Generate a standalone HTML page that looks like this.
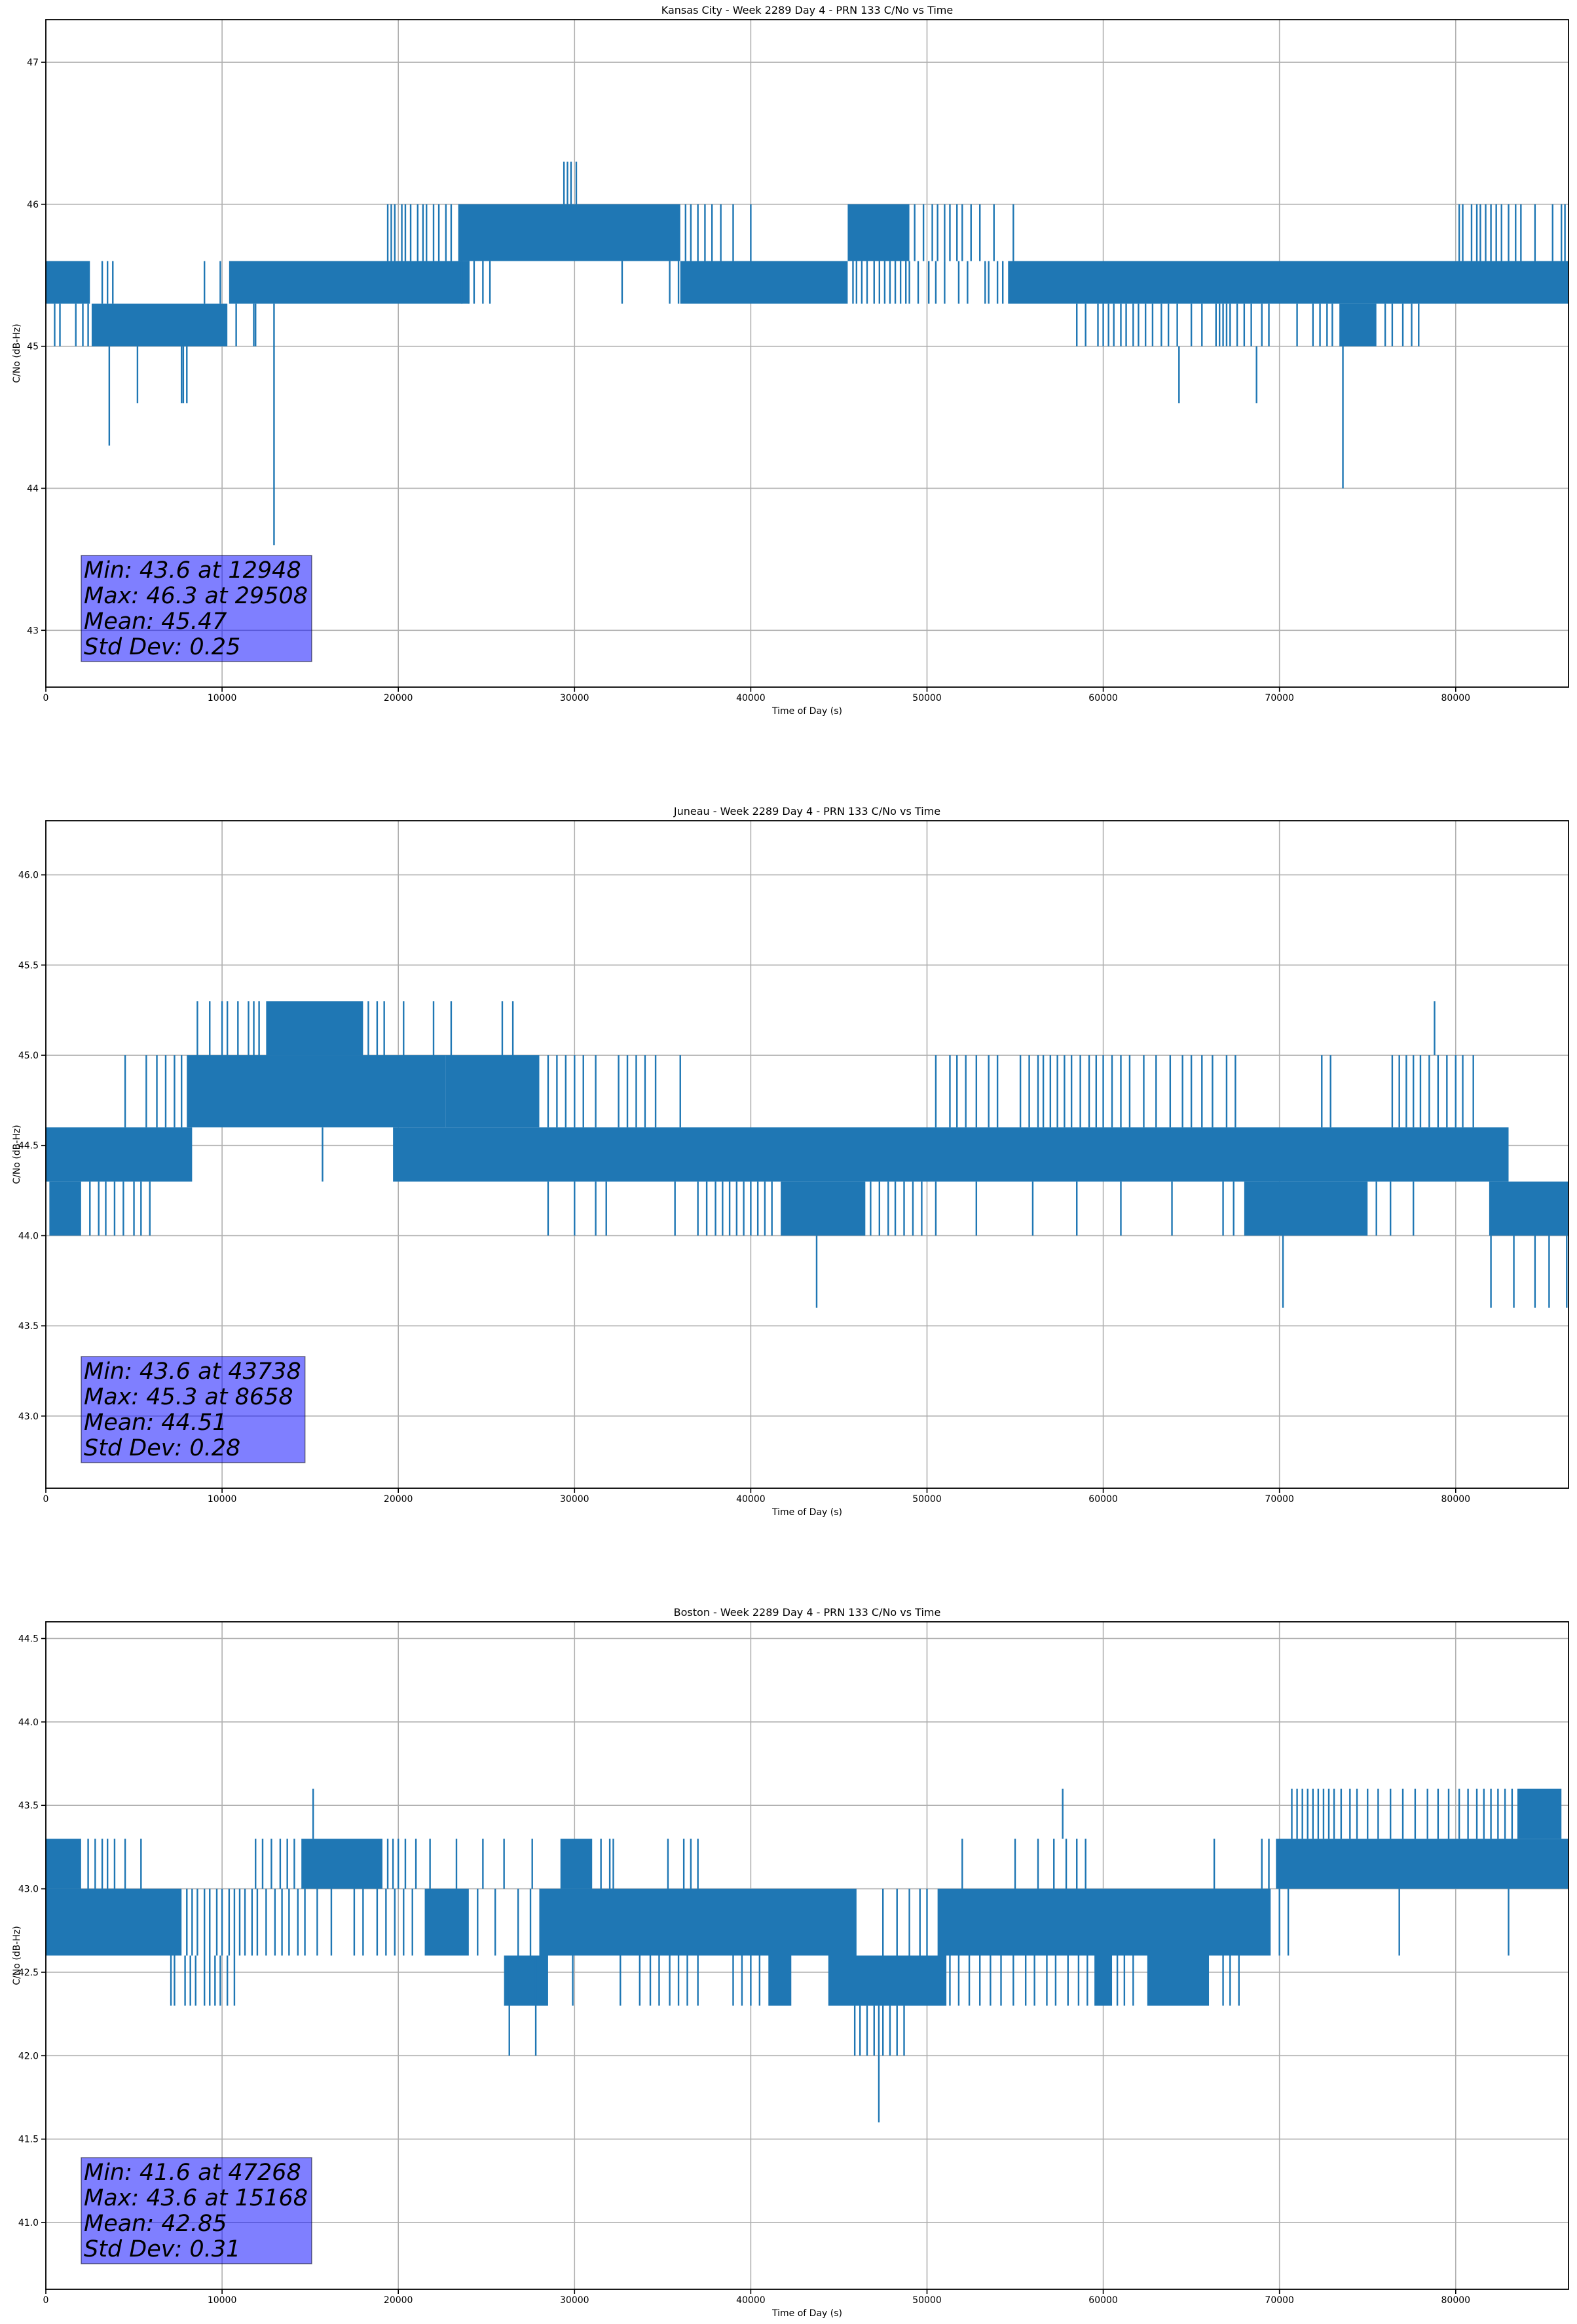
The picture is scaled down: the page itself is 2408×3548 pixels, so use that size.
<!DOCTYPE html>
<html><head><meta charset="utf-8"><style>
html,body{margin:0;padding:0;background:#fff;}
svg{display:block;}
text{font-family:"DejaVu Sans","Liberation Sans",sans-serif;fill:#000;}
</style></head><body>
<svg id="fig" width="2408" height="3548" viewBox="0 0 2408 3548" xmlns="http://www.w3.org/2000/svg"></svg>
<script>
// ---------- data ----------
const xTicks = [0,10000,20000,30000,40000,50000,60000,70000,80000];
const xMax = 86400;

const kcTitle = "Kansas City - Week 2289 Day 4 - PRN 133 C/No vs Time";
const kcYlim = [42.6, 47.3];
const kcYTicks = [43,44,45,46,47];
const kcYTickLabels = ["43","44","45","46","47"];
const kcStats = ["Min: 43.6 at 12948","Max: 46.3 at 29508","Mean: 45.47","Std Dev: 0.25"];
const kcBands = [[0,2500,45.3,45.6],[2600,10300,45.0,45.3],[10400,24000,45.3,45.6],[23400,36000,45.6,46.0],[36000,45500,45.3,45.6],[45500,49000,45.6,46.0],[54600,86400,45.3,45.6],[73400,75500,45.0,45.3]];
const kcLines = [[500,45.0,45.3],[800,45.0,45.3],[1700,45.0,45.3],[2100,45.0,45.3],[2400,45.0,45.3],[10800,45.0,45.3],[11800,45.0,45.3],[11900,45.0,45.3],
[58500,45.0,45.3],[59000,45.0,45.3],[59700,45.0,45.3],[60000,45.0,45.3],[60300,45.0,45.3],[60600,45.0,45.3],[61000,45.0,45.3],[61300,45.0,45.3],[61700,45.0,45.3],[62000,45.0,45.3],[62400,45.0,45.3],[62800,45.0,45.3],[63300,45.0,45.3],[63700,45.0,45.3],[64200,45.0,45.3],[65000,45.0,45.3],[65600,45.0,45.3],[66400,45.0,45.3],[66600,45.0,45.3],[66800,45.0,45.3],[67000,45.0,45.3],[67200,45.0,45.3],[67600,45.0,45.3],[68000,45.0,45.3],[68400,45.0,45.3],[69000,45.0,45.3],[69400,45.0,45.3],[71000,45.0,45.3],[71900,45.0,45.3],[72300,45.0,45.3],[72700,45.0,45.3],[73000,45.0,45.3],[76000,45.0,45.3],[76400,45.0,45.3],[77000,45.0,45.3],[77500,45.0,45.3],[77900,45.0,45.3],
[3200,45.3,45.6],[3500,45.3,45.6],[3800,45.3,45.6],[9000,45.3,45.6],[9900,45.3,45.6],
[3600,44.3,45.0],[5200,44.6,45.0],[7700,44.6,45.0],[7800,44.6,45.0],[8000,44.6,45.0],[12948,43.6,45.3],[64300,44.6,45.0],[68700,44.6,45.0],[73600,44.0,45.0],
[19400,45.6,46.0],[19600,45.6,46.0],[19800,45.6,46.0],[20200,45.6,46.0],[20400,45.6,46.0],[20700,45.6,46.0],[21100,45.6,46.0],[21400,45.6,46.0],[21600,45.6,46.0],[22000,45.6,46.0],[22300,45.6,46.0],[22700,45.6,46.0],[23000,45.6,46.0],
[36300,45.6,46.0],[36600,45.6,46.0],[37000,45.6,46.0],[37400,45.6,46.0],[37800,45.6,46.0],[38300,45.6,46.0],[39000,45.6,46.0],[40000,45.6,46.0],
[49300,45.6,46.0],[49800,45.6,46.0],[50300,45.6,46.0],[50600,45.6,46.0],[51000,45.6,46.0],[51300,45.6,46.0],[51700,45.6,46.0],[52000,45.6,46.0],[52500,45.6,46.0],[53000,45.6,46.0],[53800,45.6,46.0],[54900,45.6,46.0],
[80200,45.6,46.0],[80400,45.6,46.0],[80900,45.6,46.0],[81200,45.6,46.0],[81400,45.6,46.0],[81700,45.6,46.0],[82000,45.6,46.0],[82300,45.6,46.0],[82600,45.6,46.0],[83000,45.6,46.0],[83400,45.6,46.0],[83700,45.6,46.0],[84500,45.6,46.0],[85500,45.6,46.0],[86000,45.6,46.0],[86200,45.6,46.0],
[29400,46.0,46.3],[29600,46.0,46.3],[29800,46.0,46.3],[30100,46.0,46.3],
[23600,45.3,45.6],[24000,45.3,45.6],[24300,45.3,45.6],[24800,45.3,45.6],[25200,45.3,45.6],[32700,45.3,45.6],[35400,45.3,45.6],[35900,45.3,45.6],
[45800,45.3,45.6],[46000,45.3,45.6],[46300,45.3,45.6],[46600,45.3,45.6],[47000,45.3,45.6],[47300,45.3,45.6],[47600,45.3,45.6],[47900,45.3,45.6],[48200,45.3,45.6],[48500,45.3,45.6],[48800,45.3,45.6],[49000,45.3,45.6],[49500,45.3,45.6],[50100,45.3,45.6],[50500,45.3,45.6],[51000,45.3,45.6],[51800,45.3,45.6],[52300,45.3,45.6],[53300,45.3,45.6],[53500,45.3,45.6],[54000,45.3,45.6],[54300,45.3,45.6]];

const juTitle = "Juneau - Week 2289 Day 4 - PRN 133 C/No vs Time";
const juYlim = [42.6, 46.3];
const juYTicks = [43.0,43.5,44.0,44.5,45.0,45.5,46.0];
const juYTickLabels = ["43.0","43.5","44.0","44.5","45.0","45.5","46.0"];
const juStats = ["Min: 43.6 at 43738","Max: 45.3 at 8658","Mean: 44.51","Std Dev: 0.28"];
const juBands = [[0,8300,44.3,44.6],[200,2000,44.0,44.3],[8000,22700,44.6,45.0],[12500,18000,45.0,45.3],[19700,83000,44.3,44.6],[22700,28000,44.6,45.0],[41700,46500,44.0,44.3],[68000,75000,44.0,44.3],[81900,86400,44.0,44.3]];
const juLines = [[8600,45.0,45.3],[9300,45.0,45.3],[10000,45.0,45.3],[10300,45.0,45.3],[10900,45.0,45.3],[11500,45.0,45.3],[11800,45.0,45.3],[12100,45.0,45.3],[18300,45.0,45.3],[18800,45.0,45.3],[19200,45.0,45.3],[20300,45.0,45.3],[22000,45.0,45.3],[23000,45.0,45.3],[25900,45.0,45.3],[26500,45.0,45.3],[78800,45.0,45.3],
[4500,44.6,45.0],[5700,44.6,45.0],[6300,44.6,45.0],[6800,44.6,45.0],[7300,44.6,45.0],[7700,44.6,45.0],[28500,44.6,45.0],[29000,44.6,45.0],[29500,44.6,45.0],[30000,44.6,45.0],[30500,44.6,45.0],[31200,44.6,45.0],[32500,44.6,45.0],[33000,44.6,45.0],[33500,44.6,45.0],[34000,44.6,45.0],[34600,44.6,45.0],[36000,44.6,45.0],
[50500,44.6,45.0],[51300,44.6,45.0],[51700,44.6,45.0],[52200,44.6,45.0],[52800,44.6,45.0],[53500,44.6,45.0],[54000,44.6,45.0],[55300,44.6,45.0],[55800,44.6,45.0],[56300,44.6,45.0],[56600,44.6,45.0],[57000,44.6,45.0],[57400,44.6,45.0],[57800,44.6,45.0],[58200,44.6,45.0],[58700,44.6,45.0],[59200,44.6,45.0],[59600,44.6,45.0],[60000,44.6,45.0],[60500,44.6,45.0],[61000,44.6,45.0],[61500,44.6,45.0],[62300,44.6,45.0],[63000,44.6,45.0],[63800,44.6,45.0],[64500,44.6,45.0],[65000,44.6,45.0],[65600,44.6,45.0],[66200,44.6,45.0],[67000,44.6,45.0],[67500,44.6,45.0],[72400,44.6,45.0],[72900,44.6,45.0],[76400,44.6,45.0],[76800,44.6,45.0],[77200,44.6,45.0],[77600,44.6,45.0],[78000,44.6,45.0],[78500,44.6,45.0],[79000,44.6,45.0],[79500,44.6,45.0],[80000,44.6,45.0],[80400,44.6,45.0],[81000,44.6,45.0],
[2500,44.0,44.3],[3000,44.0,44.3],[3400,44.0,44.3],[3900,44.0,44.3],[4400,44.0,44.3],[5000,44.0,44.3],[5400,44.0,44.3],[5900,44.0,44.3],[28500,44.0,44.3],[30000,44.0,44.3],[31200,44.0,44.3],[31800,44.0,44.3],[35700,44.0,44.3],[37000,44.0,44.3],[37500,44.0,44.3],[38000,44.0,44.3],[38400,44.0,44.3],[38800,44.0,44.3],[39200,44.0,44.3],[39600,44.0,44.3],[40000,44.0,44.3],[40400,44.0,44.3],[40800,44.0,44.3],[41200,44.0,44.3],[46800,44.0,44.3],[47300,44.0,44.3],[47800,44.0,44.3],[48200,44.0,44.3],[48700,44.0,44.3],[49200,44.0,44.3],[49700,44.0,44.3],[50500,44.0,44.3],[52800,44.0,44.3],[56000,44.0,44.3],[58500,44.0,44.3],[61000,44.0,44.3],[63900,44.0,44.3],[66800,44.0,44.3],[67400,44.0,44.3],[75500,44.0,44.3],[76300,44.0,44.3],[77600,44.0,44.3],
[15700,44.3,44.6],
[43738,43.6,44.0],[70200,43.6,44.0],[82000,43.6,44.0],[83300,43.6,44.0],[84500,43.6,44.0],[85300,43.6,44.0],[86300,43.6,44.0]];

const boTitle = "Boston - Week 2289 Day 4 - PRN 133 C/No vs Time";
const boYlim = [40.6, 44.6];
const boYTicks = [41.0,41.5,42.0,42.5,43.0,43.5,44.0,44.5];
const boYTickLabels = ["41.0","41.5","42.0","42.5","43.0","43.5","44.0","44.5"];
const boStats = ["Min: 41.6 at 47268","Max: 43.6 at 15168","Mean: 42.85","Std Dev: 0.31"];
const boBands = [[0,7700,42.6,43.0],[0,2000,43.0,43.3],[14500,19100,43.0,43.3],[21500,24000,42.6,43.0],[26000,28500,42.3,42.6],[28000,46000,42.6,43.0],[29200,31000,43.0,43.3],[41000,42300,42.3,42.6],[44400,51100,42.3,42.6],[50600,69500,42.6,43.0],[59500,60500,42.3,42.6],[62500,66000,42.3,42.6],[69800,86400,43.0,43.3],[83500,86000,43.3,43.6]];
const boLines = [[8000,42.6,43.0],[8300,42.6,43.0],[8600,42.6,43.0],[9000,42.6,43.0],[9300,42.6,43.0],[9700,42.6,43.0],[10000,42.6,43.0],[10400,42.6,43.0],[10700,42.6,43.0],[11000,42.6,43.0],[11300,42.6,43.0],[11700,42.6,43.0],[12000,42.6,43.0],[12500,42.6,43.0],[13000,42.6,43.0],[13400,42.6,43.0],[13800,42.6,43.0],[14300,42.6,43.0],[14700,42.6,43.0],[15400,42.6,43.0],[16200,42.6,43.0],[17500,42.6,43.0],[18000,42.6,43.0],[18800,42.6,43.0],[19300,42.6,43.0],[19800,42.6,43.0],[20300,42.6,43.0],[20800,42.6,43.0],[24500,42.6,43.0],[25500,42.6,43.0],[26800,42.6,43.0],[27500,42.6,43.0],[47500,42.6,43.0],[48300,42.6,43.0],[49000,42.6,43.0],[49600,42.6,43.0],[50000,42.6,43.0],[70000,42.6,43.0],[70500,42.6,43.0],[76800,42.6,43.0],[83000,42.6,43.0],
[2400,43.0,43.3],[2800,43.0,43.3],[3200,43.0,43.3],[3500,43.0,43.3],[3900,43.0,43.3],[4500,43.0,43.3],[5400,43.0,43.3],[11900,43.0,43.3],[12300,43.0,43.3],[12800,43.0,43.3],[13300,43.0,43.3],[13700,43.0,43.3],[14100,43.0,43.3],[19400,43.0,43.3],[19700,43.0,43.3],[20000,43.0,43.3],[20400,43.0,43.3],[21000,43.0,43.3],[21800,43.0,43.3],[23300,43.0,43.3],[24800,43.0,43.3],[26000,43.0,43.3],[27600,43.0,43.3],[31500,43.0,43.3],[32000,43.0,43.3],[32200,43.0,43.3],[35300,43.0,43.3],[36200,43.0,43.3],[36600,43.0,43.3],[37000,43.0,43.3],[52000,43.0,43.3],[55000,43.0,43.3],[56300,43.0,43.3],[57200,43.0,43.3],[57900,43.0,43.3],[58500,43.0,43.3],[59000,43.0,43.3],[66300,43.0,43.3],[69000,43.0,43.3],[69400,43.0,43.3],
[7100,42.3,42.6],[7300,42.3,42.6],[7900,42.3,42.6],[8200,42.3,42.6],[8500,42.3,42.6],[9000,42.3,42.6],[9300,42.3,42.6],[9600,42.3,42.6],[9900,42.3,42.6],[10300,42.3,42.6],[10700,42.3,42.6],[29900,42.3,42.6],[32600,42.3,42.6],[33700,42.3,42.6],[34300,42.3,42.6],[34800,42.3,42.6],[35400,42.3,42.6],[35900,42.3,42.6],[36400,42.3,42.6],[37000,42.3,42.6],[39000,42.3,42.6],[39500,42.3,42.6],[40000,42.3,42.6],[40500,42.3,42.6],[51300,42.3,42.6],[51800,42.3,42.6],[52400,42.3,42.6],[53000,42.3,42.6],[53600,42.3,42.6],[54200,42.3,42.6],[54900,42.3,42.6],[55600,42.3,42.6],[56100,42.3,42.6],[56800,42.3,42.6],[57300,42.3,42.6],[58000,42.3,42.6],[58600,42.3,42.6],[59100,42.3,42.6],[60800,42.3,42.6],[61200,42.3,42.6],[61700,42.3,42.6],[66800,42.3,42.6],[67200,42.3,42.6],[67700,42.3,42.6],
[26300,42.0,42.6],[27800,42.0,42.6],[45900,42.0,42.3],[46200,42.0,42.3],[46600,42.0,42.3],[47000,42.0,42.3],[47500,42.0,42.3],[47900,42.0,42.3],[48300,42.0,42.3],[48700,42.0,42.3],[47268,41.6,42.3],
[15168,43.3,43.6],[57700,43.3,43.6],
[70700,43.3,43.6],[71000,43.3,43.6],[71300,43.3,43.6],[71600,43.3,43.6],[71900,43.3,43.6],[72200,43.3,43.6],[72500,43.3,43.6],[72800,43.3,43.6],[73100,43.3,43.6],[73500,43.3,43.6],[74000,43.3,43.6],[74400,43.3,43.6],[75000,43.3,43.6],[75600,43.3,43.6],[76300,43.3,43.6],[77000,43.3,43.6],[77700,43.3,43.6],[78400,43.3,43.6],[79000,43.3,43.6],[79600,43.3,43.6],[80200,43.3,43.6],[80700,43.3,43.6],[81200,43.3,43.6],[81600,43.3,43.6],[82000,43.3,43.6],[82400,43.3,43.6],[82800,43.3,43.6],[83200,43.3,43.6]];

// ---------- drawing ----------
const NS = "http://www.w3.org/2000/svg";
const svg = document.getElementById('fig');
const PX0 = 70, PX1 = 2395, PH = 1019;
const BLUE = "#1f77b4";
function mk(tag, attrs, parent){ const e=document.createElementNS(NS,tag); for(const k in attrs) e.setAttribute(k,attrs[k]); parent.appendChild(e); return e; }

function drawChart(key, top, title, ylim, yTicks, yTickLabels, bands, lines, stats){
  const g = mk('g', {}, svg);
  
  
  const xs = t => PX0 + (t / xMax) * (PX1 - PX0);
  const ys = v => top + PH - (v - ylim[0]) / (ylim[1] - ylim[0]) * PH;
  const grid = mk('g', {}, g);
  
  
  xTicks.forEach(t => { mk('line', {x1:xs(t), x2:xs(t), y1:top, y2:top+PH, stroke:'#b0b0b0', 'stroke-width':1.6}, grid); });
  yTicks.forEach(v => { mk('line', {x1:PX0, x2:PX1, y1:ys(v), y2:ys(v), stroke:'#b0b0b0', 'stroke-width':1.6}, grid); });
  const series = mk('g', {}, g);
  
  
  bands.forEach(b => {
    const r = mk('rect', {x:xs(b[0]), y:ys(b[3]), width:Math.max(1, xs(b[1]) - xs(b[0])), height:ys(b[2]) - ys(b[3]), fill:BLUE}, series);
    
    
  });
  lines.forEach(l => {
    const ln = mk('line', {x1:xs(l[0]), x2:xs(l[0]), y1:ys(l[1]), y2:ys(l[2]), stroke:BLUE, 'stroke-width':2.4}, series);
    
    
  });
  const sp = mk('rect', {x:PX0, y:top, width:PX1-PX0, height:PH, fill:'none', stroke:'#000', 'stroke-width':1.8}, g);
  
  
  xTicks.forEach(t => {
    mk('line', {x1:xs(t), x2:xs(t), y1:top+PH, y2:top+PH+7, stroke:'#000', 'stroke-width':1.6}, g);
    const tx = mk('text', {x:xs(t), y:top+PH+21, 'font-size':14, 'text-anchor':'middle'}, g);
    tx.textContent = String(t);
    
    
  });
  yTicks.forEach((v, i) => {
    mk('line', {x1:PX0-7, x2:PX0, y1:ys(v), y2:ys(v), stroke:'#000', 'stroke-width':1.6}, g);
    const tx = mk('text', {x:PX0-11, y:ys(v)+5, 'font-size':14, 'text-anchor':'end'}, g);
    tx.textContent = yTickLabels[i];
    
    
  });
  const xl = mk('text', {x:(PX0+PX1)/2, y:top+PH+41, 'font-size':14, 'text-anchor':'middle'}, g);
  xl.textContent = "Time of Day (s)";
  
  
  const cy = top + PH/2;
  const yl = mk('text', {x:30, y:cy, 'font-size':14, 'text-anchor':'middle', transform:'rotate(-90 30 '+cy+')'}, g);
  yl.textContent = "C/No (dB-Hz)";
  
  
  const ti = mk('text', {x:(PX0+PX1)/2, y:top-9, 'font-size':16, 'text-anchor':'middle'}, g);
  ti.textContent = title;
  
  
  const sb = mk('g', {}, g);
  
  
  const boxBottom = top + PH - 39, boxTop = boxBottom - 162;
  const rect = mk('rect', {x:124, y:boxTop, width:350, height:162, fill:'rgba(0,0,255,0.5)', stroke:'rgba(0,0,0,0.5)', 'stroke-width':1.5}, sb);
  
  
  let maxW = 0;
  stats.forEach((s, i) => {
    const tx = mk('text', {x:128, y:boxTop + 34 + i*39, 'font-size':35, 'font-style':'italic'}, sb);
    tx.textContent = s;
    
    
    try { maxW = Math.max(maxW, tx.getComputedTextLength()); } catch(e) {}
  });
  if (maxW > 0) rect.setAttribute('width', maxW + 10);
}

drawChart('kansas-city', 30, kcTitle, kcYlim, kcYTicks, kcYTickLabels, kcBands, kcLines, kcStats);
drawChart('juneau', 1253, juTitle, juYlim, juYTicks, juYTickLabels, juBands, juLines, juStats);
drawChart('boston', 2476, boTitle, boYlim, boYTicks, boYTickLabels, boBands, boLines, boStats);
</script>
</body></html>
